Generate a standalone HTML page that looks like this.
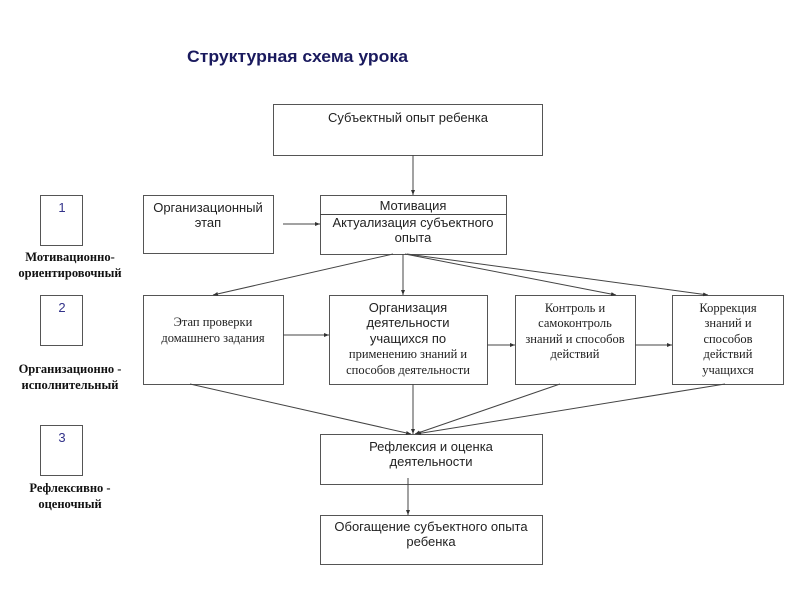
<!DOCTYPE html>
<html><head><meta charset="utf-8"><style>
html,body{margin:0;padding:0;background:#fff;}
svg{display:block;}
.s{font-family:"Liberation Sans","DejaVu Sans",sans-serif;font-size:13px;fill:#222;}
.r{font-family:"Liberation Serif","DejaVu Serif",serif;font-size:12.5px;fill:#222;}
.b{font-family:"Liberation Serif","DejaVu Serif",serif;font-size:12.5px;font-weight:bold;fill:#111;}
rect{fill:#fff;stroke:#555;stroke-width:1;}
line{stroke:#444;stroke-width:1;}
</style></head><body>
<svg width="800" height="600" viewBox="0 0 800 600" xmlns="http://www.w3.org/2000/svg">
<defs><marker id="a" markerWidth="6" markerHeight="6" refX="5" refY="3" orient="auto" markerUnits="userSpaceOnUse"><path d="M0,1 L5,3 L0,5 Z" fill="#333"/></marker></defs>
<text x="187" y="62" textLength="221" lengthAdjust="spacingAndGlyphs" style="font-family:'Liberation Sans',sans-serif;font-size:17px;font-weight:bold;fill:#1a1a5e">Структурная схема урока</text>

<rect x="273.5" y="104.5" width="269" height="51"/>
<text class="s" x="408" y="122" text-anchor="middle">Субъектный опыт ребенка</text>

<rect x="40.5" y="195.5" width="42" height="50"/>
<text x="62" y="212" text-anchor="middle" style="font-family:'Liberation Sans',sans-serif;font-size:13px;fill:#33338a">1</text>
<rect x="40.5" y="295.5" width="42" height="50"/>
<text x="62" y="312" text-anchor="middle" style="font-family:'Liberation Sans',sans-serif;font-size:13px;fill:#33338a">2</text>
<rect x="40.5" y="425.5" width="42" height="50"/>
<text x="62" y="442" text-anchor="middle" style="font-family:'Liberation Sans',sans-serif;font-size:13px;fill:#33338a">3</text>

<text class="b" x="70" y="261" text-anchor="middle">Мотивационно-</text>
<text class="b" x="70" y="277" text-anchor="middle">ориентировочный</text>
<text class="b" x="70" y="373" text-anchor="middle">Организационно -</text>
<text class="b" x="70" y="389" text-anchor="middle">исполнительный</text>
<text class="b" x="70" y="492" text-anchor="middle">Рефлексивно -</text>
<text class="b" x="70" y="508" text-anchor="middle">оценочный</text>

<rect x="143.5" y="195.5" width="130" height="58"/>
<text class="s" x="208" y="212" text-anchor="middle">Организационный</text>
<text class="s" x="208" y="227" text-anchor="middle">этап</text>

<rect x="320.5" y="195.5" width="186" height="59"/>
<line x1="320" y1="214.5" x2="506" y2="214.5"/>
<text class="s" x="413" y="210" text-anchor="middle">Мотивация</text>
<text class="s" x="413" y="227" text-anchor="middle">Актуализация субъектного</text>
<text class="s" x="413" y="242" text-anchor="middle">опыта</text>

<rect x="143.5" y="295.5" width="140" height="89"/>
<text class="r" x="213" y="326" text-anchor="middle">Этап проверки</text>
<text class="r" x="213" y="342" text-anchor="middle">домашнего задания</text>

<rect x="329.5" y="295.5" width="158" height="89"/>
<text class="s" x="408" y="312" text-anchor="middle">Организация</text>
<text class="s" x="408" y="327" text-anchor="middle">деятельности</text>
<text class="s" x="408" y="343" text-anchor="middle">учащихся по</text>
<text class="r" x="408" y="358" text-anchor="middle">применению знаний и</text>
<text class="r" x="408" y="374" text-anchor="middle">способов деятельности</text>

<rect x="515.5" y="295.5" width="120" height="89"/>
<text class="r" x="575" y="312" text-anchor="middle">Контроль и</text>
<text class="r" x="575" y="327" text-anchor="middle">самоконтроль</text>
<text class="r" x="575" y="343" text-anchor="middle">знаний и способов</text>
<text class="r" x="575" y="358" text-anchor="middle">действий</text>

<rect x="672.5" y="295.5" width="111" height="89"/>
<text class="r" x="728" y="312" text-anchor="middle">Коррекция</text>
<text class="r" x="728" y="327" text-anchor="middle">знаний и</text>
<text class="r" x="728" y="343" text-anchor="middle">способов</text>
<text class="r" x="728" y="358" text-anchor="middle">действий</text>
<text class="r" x="728" y="374" text-anchor="middle">учащихся</text>

<rect x="320.5" y="434.5" width="222" height="50"/>
<text class="s" x="431" y="451" text-anchor="middle">Рефлексия и оценка</text>
<text class="s" x="431" y="466" text-anchor="middle">деятельности</text>

<rect x="320.5" y="515.5" width="222" height="49"/>
<text class="s" x="431" y="531" text-anchor="middle">Обогащение субъектного опыта</text>
<text class="s" x="431" y="546" text-anchor="middle">ребенка</text>

<line x1="413" y1="155" x2="413" y2="195" marker-end="url(#a)"/>
<line x1="283" y1="224" x2="320" y2="224" marker-end="url(#a)"/>
<line x1="393" y1="254" x2="213" y2="295" marker-end="url(#a)"/>
<line x1="403" y1="254" x2="403" y2="295" marker-end="url(#a)"/>
<line x1="405" y1="254" x2="616" y2="295" marker-end="url(#a)"/>
<line x1="407" y1="254" x2="708" y2="295" marker-end="url(#a)"/>
<line x1="283" y1="335" x2="329" y2="335" marker-end="url(#a)"/>
<line x1="487" y1="345" x2="515" y2="345" marker-end="url(#a)"/>
<line x1="635" y1="345" x2="672" y2="345" marker-end="url(#a)"/>
<line x1="190" y1="384" x2="411" y2="434" marker-end="url(#a)"/>
<line x1="413" y1="384" x2="413" y2="434" marker-end="url(#a)"/>
<line x1="560" y1="384" x2="415" y2="434" marker-end="url(#a)"/>
<line x1="725" y1="384" x2="416" y2="434" marker-end="url(#a)"/>
<line x1="408" y1="478" x2="408" y2="515" marker-end="url(#a)"/>
</svg>
</body></html>
